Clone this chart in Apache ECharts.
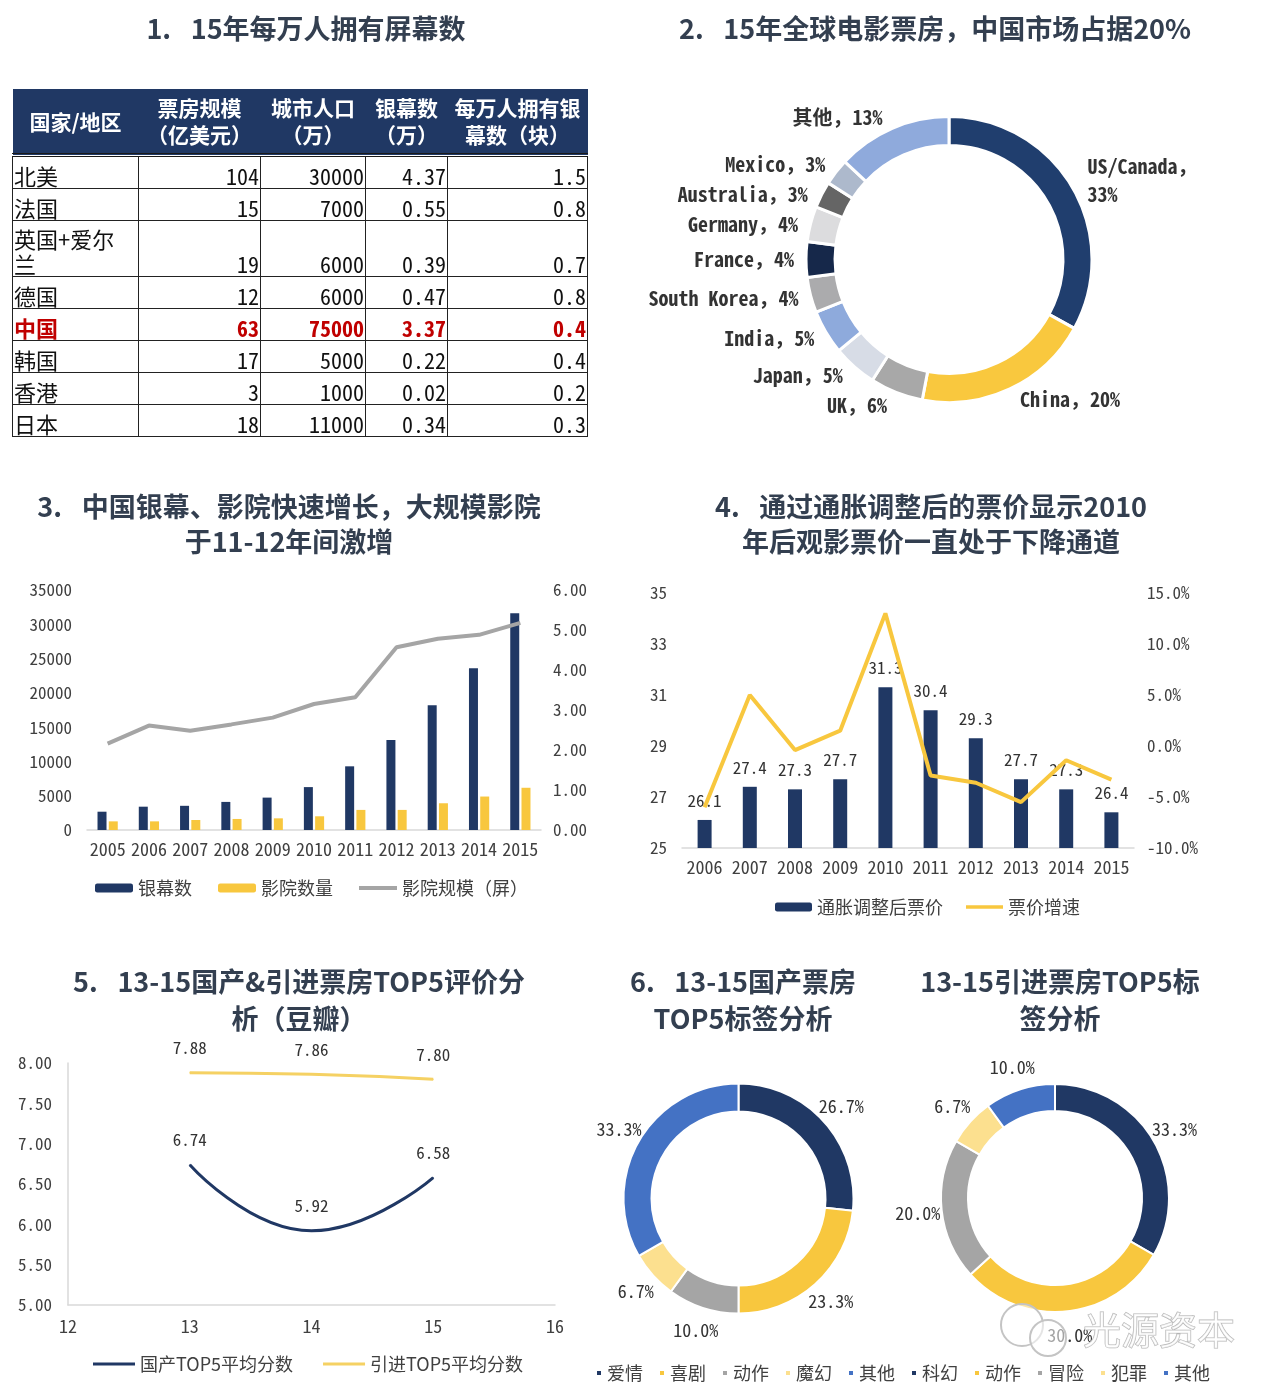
<!DOCTYPE html>
<html><head><meta charset="utf-8">
<script src="https://cdn.jsdelivr.net/npm/echarts@6/dist/echarts.min.js"></script>
<style>
html,body{margin:0;padding:0;background:#fff;}
#chart{position:absolute;left:0;top:0;width:1280px;height:1399px;}
#tbl{position:absolute;left:12px;top:89px;z-index:2;}
table{border-collapse:collapse;table-layout:fixed;font-family:'Noto Sans Mono CJK SC','Noto Sans CJK SC',sans-serif;}
th{background:#203864;color:#fff;font-weight:bold;font-size:21px;line-height:27px;height:64px;padding:0;text-align:center;border:none;border-bottom:4px double #1a1a1a;font-family:'Noto Sans CJK SC',sans-serif;}
td{font-size:22px;height:31px;line-height:25px;padding:0 1px;border:1px solid #222;vertical-align:bottom;text-align:right;color:#111;white-space:nowrap;}
td.n{text-align:left;font-family:'Noto Sans CJK SC',sans-serif;}
tr.hl td{color:#C00000;font-weight:bold;}
tr.tall td{height:55px;}
</style></head>
<body>
<div id="chart"></div>
<div id="tbl"></div>
<script>
// ---------- Panel 1 table data ----------
const tableHeaders = ['国家/地区','票房规模\n（亿美元）','城市人口\n（万）','银幕数\n（万）','每万人拥有银\n幕数（块）'];
const tableRegions = ['北美','法国','英国+爱尔兰','德国','中国','韩国','香港','日本'];
const tableBoxOffice = [104,15,19,12,63,17,3,18];
const tablePopulation = [30000,7000,6000,6000,75000,5000,1000,11000];
const tableScreens = [4.37,0.55,0.39,0.47,3.37,0.22,0.02,0.34];
const tableScreensPer10k = [1.5,0.8,0.7,0.8,0.4,0.4,0.2,0.3];
const tableHighlight = '中国';

// ---------- Panel 2 global box office ----------
const boxNames = ['US/Canada','China','UK','Japan','India','South Korea','France','Germany','Australia','Mexico','其他#g'];
const boxShares = [33,20,6,5,5,4,4,4,3,3,13];

// ---------- Panel 3 screens & cinemas ----------
const years3 = ['2005','2006','2007','2008','2009','2010','2011','2012','2013','2014','2015'];
const screens = [2668,3400,3527,4097,4723,6256,9286,13118,18195,23600,31627];
const cinemas = [1260,1260,1460,1610,1700,2000,2930,2930,3900,4880,6160];
const screensPerCinema = [2.16,2.61,2.48,2.64,2.81,3.15,3.32,4.57,4.78,4.88,5.18];

// ---------- Panel 4 ticket price ----------
const years4 = ['2006','2007','2008','2009','2010','2011','2012','2013','2014','2015'];
const adjPrice = [26.1,27.4,27.3,27.7,31.3,30.4,29.3,27.7,27.3,26.4];
const priceGrowth = [-6.0,5.0,-0.4,1.5,13.0,-2.9,-3.6,-5.5,-1.4,-3.3];
const priceTicks = [25,27,29,31,33,35];

// ---------- Panel 5 douban scores ----------
const scoreYears = [13,14,15];
const domesticScore = [6.74,5.92,6.58];
const importedScore = [7.88,7.86,7.80];

// ---------- Panel 6 tags ----------
const domTags = ['爱情','喜剧','动作','魔幻','其他'];
const domShares = [26.7,23.3,10.0,6.7,33.3];
const impTags = ['科幻','动作#b','冒险','犯罪','其他#b'];
const impShares = [33.3,30.0,20.0,6.7,10.0];

// ---------- build table ----------
(function(){
  const br = s => s.replace(/\n/g,'<br>');
  const widths=[126,122,105,82,140];
  let h='<table><colgroup>'+widths.map(w=>'<col style="width:'+w+'px">').join('')+'</colgroup><tr>';
  h+=tableHeaders.map(t=>'<th>'+br(t)+'</th>').join('')+'</tr>';
  tableRegions.forEach((r,i)=>{
    const name = r.length>5 ? r.slice(0,5)+'<br>'+r.slice(5) : r;
    const cls = (r===tableHighlight?'hl':'')+(r.length>5?' tall':'');
    h+='<tr class="'+cls+'"><td class="n">'+name+'</td><td>'+tableBoxOffice[i]+'</td><td>'+tablePopulation[i]+'</td><td>'+tableScreens[i].toFixed(2)+'</td><td>'+tableScreensPer10k[i].toFixed(1)+'</td></tr>';
  });
  h+='</table>';
  document.getElementById('tbl').innerHTML=h;
})();

const NAVY='#203864', YEL='#F8C73E', GRAY='#A5A5A5', AX='#D9D9D9', TXT='#404040';
const MONO="'Noto Sans Mono CJK SC','Noto Sans CJK SC',sans-serif";
const SANS="'Noto Sans CJK SC',sans-serif";
const clean = n => n.split('#')[0];
const boxColors = ['#203E6E','#F9C83E','#A8A8A8','#D7DCE6','#8EAADC','#ABABAD','#16284A','#DCDCDE','#656565','#ADB9CC','#8FAADC'];
const tagColors = [NAVY,YEL,'#A5A5A5','#FCE08F','#4472C4'];

// mid angles (clockwise from 12 o'clock) of pie slices
function midAngles(vals){
  const tot = vals.reduce((a,b)=>a+b,0); let acc=0;
  return vals.map(v=>{const m=(acc+v/2)/tot*2*Math.PI; acc+=v; return m;});
}
function ringLabelLayout(vals,cx,cy,R){
  const mids = midAngles(vals);
  return p=>{const a=mids[p.dataIndex];return {x:cx+R*Math.sin(a),y:cy-R*Math.cos(a),align:'center',verticalAlign:'middle'};};
}

const GAP='\u2002 ';
function ttl(text,x,y,lh){return {text:text,left:x,top:y,textAlign:'center',textStyle:{fontFamily:SANS,fontSize:27,fontWeight:'bold',color:'#333F50',lineHeight:lh||36}};}
const axLbl = (extra)=>Object.assign({fontFamily:MONO,fontSize:18,color:TXT},extra||{});
const lineIcon = (w,t)=>'path://M0,0h'+w+'v'+t+'h-'+w+'z';

const chart = echarts.init(document.getElementById('chart'),null,{renderer:'canvas'});
const option = {
  backgroundColor:'#fff',
  animation:false,
  title:[
    ttl('1.'+GAP+'15年每万人拥有屏幕数',301,6),
    ttl('2.'+GAP+'15年全球电影票房，中国市场占据20%',930,6),
    ttl('3.'+GAP+'中国银幕、影院快速增长，大规模影院\n于11-12年间激增',284,484,35),
    ttl('4.'+GAP+'通过通胀调整后的票价显示2010\n年后观影票价一直处于下降通道',926,484,35),
    ttl('5.'+GAP+'13-15国产&引进票房TOP5评价分\n析（豆瓣）',294,958,37),
    ttl('6.'+GAP+'13-15国产票房\nTOP5标签分析',738,958,37),
    ttl('13-15引进票房TOP5标\n签分析',1055,958,37)
  ],
  grid:[
    {left:87,top:590,width:454,height:240},
    {left:682,top:593,width:452,height:255},
    {left:68,top:1063,width:487,height:242}
  ],
  xAxis:[
    {type:'category',gridIndex:0,data:years3,axisLine:{onZero:false,lineStyle:{color:AX,width:1.5}},axisTick:{show:false},axisLabel:axLbl({margin:10,interval:0})},
    {type:'category',gridIndex:1,data:years4,axisLine:{onZero:false,lineStyle:{color:AX,width:1.5}},axisTick:{show:false},axisLabel:axLbl({margin:10,interval:0})},
    {type:'value',gridIndex:2,min:12,max:16,interval:1,axisLine:{show:true,onZero:false,lineStyle:{color:AX,width:1.5}},axisTick:{show:false},splitLine:{show:false},axisLabel:axLbl({margin:12})}
  ],
  yAxis:[
    {type:'value',gridIndex:0,min:0,max:35000,interval:5000,axisLine:{show:false},axisTick:{show:false},splitLine:{show:false},axisLabel:axLbl({margin:15,fontSize:17,formatter:v=>String(v)})},
    {type:'value',gridIndex:0,position:'right',min:0,max:6,interval:1,axisLine:{show:false},axisTick:{show:false},splitLine:{show:false},axisLabel:axLbl({margin:12,fontSize:17,formatter:v=>v.toFixed(2)})},
    {type:'value',gridIndex:1,min:25,max:35,axisLine:{show:false},axisTick:{show:false},splitLine:{show:false},axisLabel:axLbl({margin:15,fontSize:17,customValues:priceTicks})},
    {type:'value',gridIndex:1,position:'right',min:-10,max:15,interval:5,axisLine:{show:false},axisTick:{show:false},splitLine:{show:false},axisLabel:axLbl({margin:13,fontSize:17,formatter:v=>v.toFixed(1)+'%'})},
    {type:'value',gridIndex:2,min:5,max:8,interval:0.5,axisLine:{show:true,onZero:false,lineStyle:{color:AX,width:1.5}},axisTick:{show:false},splitLine:{show:false},axisLabel:axLbl({margin:16,fontSize:17,formatter:v=>v.toFixed(2)})}
  ],
  legend:[
    {data:['银幕数','影院数量',{name:'影院规模（屏）',icon:lineIcon(38,4)}],left:90,top:874,itemWidth:38,itemHeight:9,itemGap:26,textStyle:{fontFamily:SANS,fontSize:18,color:TXT}},
    {data:['通胀调整后票价',{name:'票价增速',icon:lineIcon(40,4)}],left:770,top:893,itemWidth:37,itemHeight:9,itemGap:23,textStyle:{fontFamily:SANS,fontSize:18,color:TXT}},
    {data:[{name:'国产TOP5平均分数',icon:lineIcon(40,3)},{name:'引进TOP5平均分数',icon:lineIcon(40,3)}],left:88,top:1350,itemWidth:42,itemHeight:9,itemGap:30,textStyle:{fontFamily:SANS,fontSize:18,color:TXT}},
    {data:domTags.concat(impTags),left:590,top:1359,icon:'rect',itemWidth:6,itemHeight:6,itemGap:15,formatter:n=>clean(n),textStyle:{fontFamily:SANS,fontSize:18,color:TXT}}
  ],
  series:[
    {name:'银幕数',type:'bar',xAxisIndex:0,yAxisIndex:0,data:screens,barWidth:9,barGap:'25%',itemStyle:{color:NAVY}},
    {name:'影院数量',type:'bar',xAxisIndex:0,yAxisIndex:0,data:cinemas,barWidth:9,itemStyle:{color:YEL}},
    {name:'影院规模（屏）',type:'line',xAxisIndex:0,yAxisIndex:1,data:screensPerCinema,symbol:'none',lineStyle:{color:GRAY,width:4},itemStyle:{color:GRAY}},
    {name:'通胀调整后票价',type:'bar',xAxisIndex:1,yAxisIndex:2,data:adjPrice,barWidth:14,itemStyle:{color:NAVY},
      label:{show:true,position:'top',distance:11,fontFamily:MONO,fontSize:17,color:'#333',formatter:p=>p.value.toFixed(1)}},
    {name:'票价增速',type:'line',xAxisIndex:1,yAxisIndex:3,data:priceGrowth,symbol:'none',lineStyle:{color:YEL,width:4},itemStyle:{color:YEL},z:3},
    {name:'国产TOP5平均分数',type:'line',xAxisIndex:2,yAxisIndex:4,smooth:true,data:scoreYears.map((x,i)=>[x,domesticScore[i]]),
      symbol:'circle',symbolSize:1,showSymbol:true,lineStyle:{color:NAVY,width:3},itemStyle:{color:NAVY},
      label:{show:true,position:'top',distance:16,fontFamily:MONO,fontSize:17,color:'#333',formatter:p=>p.value[1].toFixed(2)}},
    {name:'引进TOP5平均分数',type:'line',xAxisIndex:2,yAxisIndex:4,smooth:true,data:scoreYears.map((x,i)=>[x,importedScore[i]]),
      symbol:'circle',symbolSize:1,showSymbol:true,lineStyle:{color:'#F5D163',width:3},itemStyle:{color:'#F5D163'},
      label:{show:true,position:'top',distance:16,fontFamily:MONO,fontSize:17,color:'#333',formatter:p=>p.value[1].toFixed(2)}},
    {name:'全球票房',type:'pie',center:[949,259.5],radius:[114,143],startAngle:90,clockwise:true,avoidLabelOverlap:true,
      itemStyle:{borderColor:'#fff',borderWidth:3},
      label:{show:true,position:'outside',fontFamily:MONO,fontWeight:'bold',fontSize:20,color:'#333',lineHeight:28,
        formatter:p=>{const n=clean(p.name);return n.indexOf('/')>=0?n+'，\n'+p.value+'%':n+'，'+p.value+'%';}},
      labelLine:{show:false,length:12,length2:0},
      data:boxNames.map((n,i)=>({name:n,value:boxShares[i],itemStyle:{color:boxColors[i]}}))},
    {name:'国产标签',type:'pie',center:[738.5,1198.5],radius:[87,115],startAngle:90,clockwise:true,
      itemStyle:{borderColor:'#fff',borderWidth:2},
      label:{show:true,position:'outside',fontFamily:MONO,fontSize:18,color:'#333',formatter:p=>p.value.toFixed(1)+'%'},
      labelLine:{show:false,length:2,length2:0},
      labelLayout:ringLabelLayout(domShares,738.5,1198.5,138),
      data:domTags.map((n,i)=>({name:n,value:domShares[i],itemStyle:{color:tagColors[i]}}))},
    {name:'引进标签',type:'pie',center:[1055,1198],radius:[87,114],startAngle:90,clockwise:true,
      itemStyle:{borderColor:'#fff',borderWidth:2},
      label:{show:true,position:'outside',fontFamily:MONO,fontSize:18,color:'#333',formatter:p=>p.value.toFixed(1)+'%'},
      labelLine:{show:false,length:2,length2:0},
      labelLayout:ringLabelLayout(impShares,1055,1198,138),
      data:impTags.map((n,i)=>({name:n,value:impShares[i],itemStyle:{color:tagColors[i]}}))}
  ],
  graphic:[
    {type:'circle',z:100,shape:{cx:1022,cy:1325,r:21},style:{fill:'rgba(255,255,255,0.55)',stroke:'#c4c4c4',lineWidth:2}},
    {type:'circle',z:101,shape:{cx:1048,cy:1338,r:18},style:{fill:'rgba(255,255,255,0.55)',stroke:'#c4c4c4',lineWidth:2}},
    {type:'text',z:102,x:1159,y:1330,style:{text:'光源资本',font:'38px "Noto Sans CJK SC"',fill:'rgba(255,255,255,0.7)',stroke:'#b4b4b4',lineWidth:1.2,textAlign:'center',textVerticalAlign:'middle'}}
  ]
};
chart.setOption(option);
</script>
</body></html>
